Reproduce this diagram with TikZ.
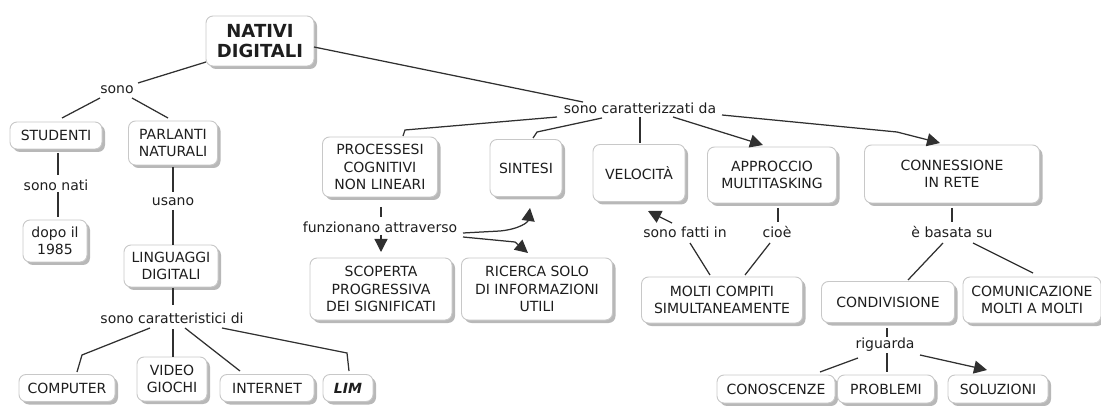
\documentclass[tikz,border=0pt]{standalone}
\usepackage{fontspec}
\setmainfont{DejaVu Sans}
\usetikzlibrary{arrows.meta,shadows,calc}
\definecolor{boxline}{HTML}{C8C8C8}
\definecolor{boxshade}{HTML}{B8B8B8}
\definecolor{ink}{HTML}{303030}
\definecolor{txt}{HTML}{1E1E1E}

\begin{document}
\begin{tikzpicture}[x=1pt,y=-1pt,
  font=\fontsize{14}{17.5}\selectfont, text=txt,
  cbox/.style={draw=boxline, line width=0.9pt, fill=white, rounded corners=7pt,
    align=center, inner sep=0pt,
    drop shadow={shadow xshift=3pt, shadow yshift=-3pt, fill=boxshade, opacity=1}},
  lbl/.style={align=center, inner sep=1pt},
  conn/.style={draw=ink, line width=1.25pt},
  arr/.style={conn, -{Triangle[length=13pt,width=13pt]}},
]
\useasboundingbox (0,0) rectangle (1101,406);

% concepts
\node[cbox, minimum width=108pt, minimum height=50pt,
      font=\fontsize{18}{20}\selectfont\bfseries] (nat) at (260,41) {NATIVI\\DIGITALI};
\node[cbox, minimum width=92pt, minimum height=27pt] (stu) at (56,135.5) {STUDENTI};
\node[cbox, minimum width=89pt, minimum height=44pt] (par) at (173,143) {PARLANTI\\NATURALI};
\node[cbox, minimum width=64pt, minimum height=42pt] (dopo) at (55,241) {dopo il\\1985};
\node[cbox, minimum width=94pt, minimum height=42pt] (lin) at (171,266) {LINGUAGGI\\DIGITALI};
\node[cbox, minimum width=96pt, minimum height=27pt] (comp) at (67,388) {COMPUTER};
\node[cbox, minimum width=70pt, minimum height=44pt] (vid) at (172,379) {VIDEO\\GIOCHI};
\node[cbox, minimum width=94pt, minimum height=27pt] (int) at (267,388) {INTERNET};
\node[cbox, minimum width=50pt, minimum height=27pt,
      font=\fontsize{14}{17.5}\selectfont\bfseries\itshape] (lim) at (348,388) {LIM};

\node[cbox, minimum width=115pt, minimum height=60pt] (pro) at (380,167) {PROCESSESI\\COGNITIVI\\NON LINEARI};
\node[cbox, minimum width=142pt, minimum height=62pt] (sco) at (381,289) {SCOPERTA\\PROGRESSIVA\\DEI SIGNIFICATI};
\node[cbox, minimum width=151pt, minimum height=62pt] (ric) at (537,289) {RICERCA SOLO\\DI INFORMAZIONI\\UTILI};
\node[cbox, minimum width=72pt, minimum height=57pt] (sin) at (526,168) {SINTESI};
\node[cbox, minimum width=92pt, minimum height=57pt] (vel) at (639,173) {VELOCITÀ};
\node[cbox, minimum width=129pt, minimum height=56pt] (app) at (772,175) {APPROCCIO\\MULTITASKING};
\node[cbox, minimum width=175pt, minimum height=58pt] (con) at (952,174) {CONNESSIONE\\IN RETE};
\node[cbox, minimum width=161pt, minimum height=46pt] (mol) at (722,300) {MOLTI COMPITI\\SIMULTANEAMENTE};
\node[cbox, minimum width=133pt, minimum height=41pt] (cnd) at (888,302) {CONDIVISIONE};
\node[cbox, minimum width=138pt, minimum height=46pt] (com) at (1032,300) {COMUNICAZIONE\\MOLTI A MOLTI};
\node[cbox, minimum width=118pt, minimum height=28pt] (cns) at (776,389) {CONOSCENZE};
\node[cbox, minimum width=97pt, minimum height=28pt] (prb) at (886,389) {PROBLEMI};
\node[cbox, minimum width=100pt, minimum height=28pt] (sol) at (998,389) {SOLUZIONI};

% linking phrases
\node[lbl] (sono) at (117,90) {sono};
\node[lbl] (sonati) at (56,185) {sono nati};
\node[lbl] (usano) at (173,202) {usano};
\node[lbl] (scd) at (172,318) {sono caratteristici di};
\node[lbl] (scz) at (640,108) {sono caratterizzati da};
\node[lbl] (fun) at (380,227) {funzionano attraverso};
\node[lbl] (sfi) at (685,232) {sono fatti in};
\node[lbl] (cio) at (777,232) {cioè};
\node[lbl] (bas) at (952,232) {è basata su};
\node[lbl] (rig) at (885,345) {riguarda};

% left branch
\draw[conn] ($(nat)+(-54,21)$) -- ($(sono)+(21,-7)$);
\draw[conn] ($(sono)+(-17,8)$) -- ($(stu)+(6,-17.5)$);
\draw[conn] ($(sono)+(15,8)$) -- ($(par)+(-5,-25)$);
\draw[conn] ($(stu)+(2,17.5)$) -- ($(sonati)+(2,-10)$);
\draw[conn] ($(sonati)+(2,7)$) -- ($(dopo)+(3,-24)$);
\draw[conn] ($(par)+(0,24)$) -- ($(usano)+(0,-10)$);
\draw[conn] ($(usano)+(0,8)$) -- ($(lin)+(2,-21)$);
\draw[conn] ($(lin)+(2,22)$) -- ($(scd)+(1,-13)$);
\draw[conn] ($(scd)+(-22,10)$) -- ($(comp)+(15,-33)$) -- ($(comp)+(10,-16)$);
\draw[conn] ($(scd)+(1,11)$) -- ($(vid)+(1,-22)$);
\draw[conn] ($(scd)+(13,10)$) -- ($(int)+(-27,-17)$);
\draw[conn] ($(scd)+(50,10)$) -- ($(lim)+(-1,-35)$) -- ($(lim)+(1,-17)$);

% right branch
\draw[conn] ($(nat)+(54,6)$) -- ($(scz)+(-57,-6)$);
\draw[conn] ($(scz)+(-83,9)$) -- ($(pro)+(25,-37)$) -- ($(pro)+(23,-31)$);
\draw[conn] ($(scz)+(-38,10)$) -- ($(sin)+(11,-36)$) -- ($(sin)+(7,-30)$);
\draw[conn] ($(scz)+(0,9)$) -- ($(vel)+(1,-30)$);
\draw[arr] ($(scz)+(33,9)$) -- ($(app)+(-9,-30)$);
\draw[arr] ($(scz)+(82,7)$) -- ($(con)+(-55,-42)$) -- ($(con)+(-12,-31)$);

\draw[conn] ($(pro)+(1,40)$) -- ($(fun)+(1,-10)$);
\draw[arr] ($(fun)+(1,8)$) -- ($(sco)+(0,-37)$);
\draw[arr] ($(fun)+(83,6)$) -- ($(fun)+(120,4)$)
  .. controls ($(sin)+(-6,61)$) and ($(sin)+(2,54)$) .. ($(sin)+(4,40)$);
\draw[arr] ($(fun)+(83,10)$) -- ($(ric)+(-22,-47)$) -- ($(ric)+(-9,-36)$);

\draw[arr] ($(sfi)+(-13,-9)$) -- ($(vel)+(9,38)$);
\draw[conn] ($(mol)+(-12,-25)$) -- ($(sfi)+(5,11)$);
\draw[conn] ($(app)+(6,33)$) -- ($(cio)+(1,-10)$);
\draw[conn] ($(cio)+(-7,11)$) -- ($(mol)+(23,-25)$);

\draw[conn] ($(con)+(0,34)$) -- ($(bas)+(0,-10)$);
\draw[conn] ($(bas)+(-9,11)$) -- ($(cnd)+(20,-22)$);
\draw[conn] ($(bas)+(21,11)$) -- ($(com)+(1,-27)$);
\draw[conn] ($(cnd)+(-1,26)$) -- ($(rig)+(2,-8)$);
\draw[conn] ($(rig)+(-27,13)$) -- ($(cns)+(44,-17)$);
\draw[conn] ($(rig)+(2,8)$) -- ($(prb)+(1,-17)$);
\draw[arr] ($(rig)+(35,10)$) -- ($(sol)+(-11,-19)$);
\end{tikzpicture}
\end{document}
